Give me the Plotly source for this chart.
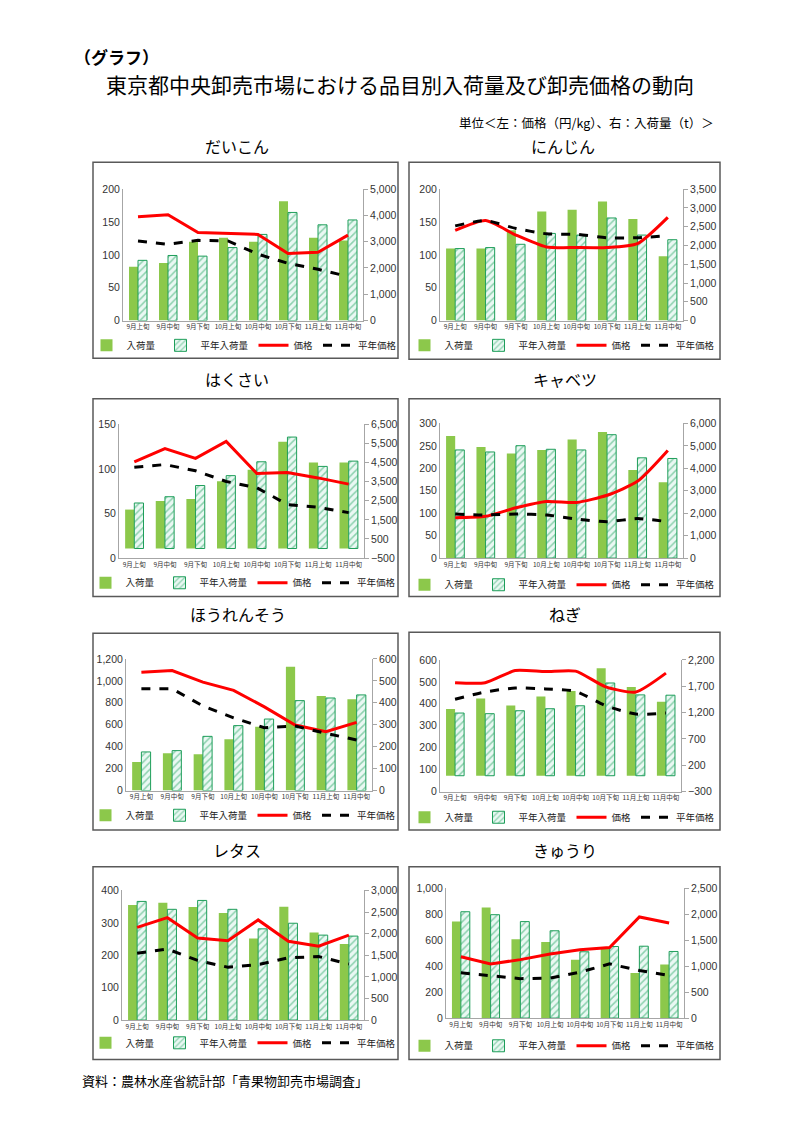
import plotly.graph_objects as go

categories = ["9月上旬", "9月中旬", "9月下旬", "10月上旬", "10月中旬", "10月下旬", "11月上旬", "11月中旬"]
item_names = ["だいこん", "にんじん", "はくさい", "キャベツ", "ほうれんそう", "ねぎ", "レタス", "きゅうり"]

# 入荷量 (t) / 平年入荷量 (t) / 価格 (円/kg) / 平年価格 (円/kg)
daikon_vol = [2050, 2190, 3000, 3150, 3000, 4540, 3150, 3040]
daikon_avg_vol = [2290, 2475, 2450, 2775, 3275, 4110, 3640, 3825]
daikon_price = [158, 161, 134, 132, 131, 102, 104, 130]
daikon_avg_price = [121, 116, 122, 121, 101, 87, 78, 67]

ninjin_vol = [1916, 1916, 2400, 2905, 2949, 3167, 2704, 1715]
ninjin_avg_vol = [1916, 1942, 2030, 2319, 2275, 2730, 2275, 2152]
ninjin_price = [137, 152, 130, 112, 111, 111, 117, 157]
ninjin_avg_price = [144, 152, 140, 132, 131, 126, 126, 129]

hakusai_vol = [2040, 2490, 2590, 3525, 4130, 5600, 4510, 4510]
hakusai_avg_vol = [2385, 2713, 3300, 3819, 4545, 5840, 4303, 4580]
hakusai_price = [108, 123, 112, 131, 95, 96, 90, 83]
hakusai_avg_price = [102, 105, 98, 86, 79, 60, 57, 51]

cabbage_vol = [5440, 4955, 4660, 4820, 5290, 5620, 3925, 3380]
cabbage_avg_vol = [4820, 4730, 5010, 4850, 4820, 5500, 4470, 4440]
cabbage_price = [90, 93, 112, 126, 124, 140, 171, 240]
cabbage_avg_price = [98, 96, 98, 96, 87, 81, 88, 81]

spinach_vol = [130, 170, 166, 234, 291, 565, 431, 416]
spinach_avg_vol = [176, 182, 247, 296, 326, 410, 422, 436]
spinach_price = [1079, 1094, 989, 913, 763, 597, 537, 621]
spinach_avg_price = [928, 928, 772, 663, 573, 588, 522, 461]

negi_vol = [1267, 1467, 1335, 1505, 1611, 2044, 1687, 1404]
negi_avg_vol = [1191, 1179, 1235, 1273, 1329, 1762, 1536, 1530]
negi_price = [496, 496, 552, 547, 549, 477, 454, 540]
negi_avg_price = [421, 454, 472, 468, 457, 391, 353, 358]

lettuce_vol = [2662, 2716, 2616, 2479, 1890, 2624, 2027, 1760]
lettuce_avg_vol = [2746, 2563, 2769, 2563, 2111, 2241, 1966, 1943]
lettuce_price = [286, 316, 253, 245, 309, 243, 228, 262]
lettuce_avg_price = [206, 219, 184, 163, 171, 192, 196, 173]

cucumber_vol = [1861, 2133, 1519, 1469, 1127, 1361, 867, 1032]
cucumber_avg_vol = [2051, 1994, 1861, 1684, 1279, 1380, 1386, 1285]
cucumber_price = [473, 418, 451, 494, 527, 544, 780, 734]
cucumber_avg_price = [349, 324, 304, 309, 354, 418, 367, 329]

volumes = [daikon_vol, ninjin_vol, hakusai_vol, cabbage_vol, spinach_vol, negi_vol, lettuce_vol, cucumber_vol]
avg_volumes = [daikon_avg_vol, ninjin_avg_vol, hakusai_avg_vol, cabbage_avg_vol, spinach_avg_vol, negi_avg_vol, lettuce_avg_vol, cucumber_avg_vol]
prices = [daikon_price, ninjin_price, hakusai_price, cabbage_price, spinach_price, negi_price, lettuce_price, cucumber_price]
avg_prices = [daikon_avg_price, ninjin_avg_price, hakusai_avg_price, cabbage_avg_price, spinach_avg_price, negi_avg_price, lettuce_avg_price, cucumber_avg_price]

# axis settings: (left min, left max, left step, right min, right max, right step)
axis_cfg = [
    (0, 200, 50, 0, 5000, 1000),
    (0, 200, 50, 0, 3500, 500),
    (0, 150, 50, -500, 6500, 1000),
    (0, 300, 50, 0, 6000, 1000),
    (0, 1200, 200, 0, 600, 100),
    (0, 600, 100, -300, 2200, 500),
    (0, 400, 100, 0, 3000, 500),
    (0, 1000, 200, 0, 2500, 500),
]
smooth = [False, True, False, True, False, True, False, False]

# layout in pixels
plot_px = [
    (123, 363, 185, 318), (440, 683, 185, 318),
    (119, 364, 423, 558), (440, 683, 422, 558),
    (126, 372, 660, 793), (440, 681, 661, 794),
    (122, 364, 894, 1025), (446, 684, 892, 1023),
]
box_px = [
    (93, 398, 158, 356), (409, 720, 158, 357),
    (93, 398, 397, 597), (409, 720, 397, 597),
    (93, 398, 634, 833), (409, 720, 633, 833),
    (93, 398, 870, 1065), (409, 720, 870, 1065),
]
title_px = [(237, 142), (563, 142), (237, 377), (565, 377), (238, 615), (565, 615), (237, 853), (565, 853)]
legend_px = [(244, 343), (562, 343), (243, 583), (562, 585), (243, 818), (562, 820), (243, 1048), (562, 1051)]

W, H = 794, 1123
def fx(p):
    return p / W
def fy(p):
    return 1 - p / H

GREEN = "#8CC84B"
HATCH_LINE = "#2EAA6A"
JP = "Noto Sans CJK JP"
NUM = "Liberation Sans"
AXIS_GREY = "#A6A6A6"

fig = go.Figure()
layout = dict(
    width=W, height=H, margin=dict(l=0, r=0, t=0, b=0),
    paper_bgcolor="white", plot_bgcolor="rgba(0,0,0,0)",
    barmode="group", bargap=0.4, bargroupgap=0,
    font=dict(family=JP, color="#222"),
    showlegend=True,
)

shapes = []
annotations = []

for i in range(8):
    n = i + 1
    xa = "x" if n == 1 else f"x{n}"
    yb_i = 2 * i + 1
    yl_i = 2 * i + 2
    yb = "y" if yb_i == 1 else f"y{yb_i}"
    yl = f"y{yl_i}"
    leg = "legend" if n == 1 else f"legend{n}"
    lmin, lmax, lstep, rmin, rmax, rstep = axis_cfg[i]
    shape = "spline" if smooth[i] else "linear"

    fig.add_trace(go.Bar(
        x=categories, y=volumes[i], name="入荷量", xaxis=xa, yaxis=yb, legend=leg,
        marker=dict(color=GREEN, line=dict(width=0)),
    ))
    fig.add_trace(go.Bar(
        x=categories, y=avg_volumes[i], name="平年入荷量", xaxis=xa, yaxis=yb, legend=leg,
        marker=dict(color="#EAF8F3", line=dict(color="#1E9E5A", width=1),
                    pattern=dict(shape="/", fgcolor=HATCH_LINE, bgcolor="#EAF8F3", size=5, solidity=0.3)),
    ))
    fig.add_trace(go.Scatter(
        x=categories, y=prices[i], name="価格", xaxis=xa, yaxis=yl, legend=leg, mode="lines",
        line=dict(color="#FF0000", width=3, shape=shape, smoothing=0.6),
    ))
    fig.add_trace(go.Scatter(
        x=categories, y=avg_prices[i], name="平年価格", xaxis=xa, yaxis=yl, legend=leg, mode="lines",
        line=dict(color="#000000", width=3, dash="dash", shape=shape, smoothing=0.6),
    ))

    x0, x1, y0, y1 = plot_px[i]
    xkey = "xaxis" if n == 1 else f"xaxis{n}"
    ybkey = "yaxis" if yb_i == 1 else f"yaxis{yb_i}"
    ylkey = f"yaxis{yl_i}"
    layout[xkey] = dict(
        domain=[fx(x0), fx(x1)], anchor=yb, type="category",
        showline=True, linecolor=AXIS_GREY, linewidth=1, ticks="", showgrid=False,
        tickfont=dict(size=6.5, family=JP, color="#333"), tickangle=0,
    )
    layout[ybkey] = dict(
        domain=[fy(y1), fy(y0)], anchor=xa, side="right",
        range=[rmin, rmax], tick0=rmin, dtick=rstep, tickformat=",",
        showgrid=False, zeroline=False, showline=True, linecolor=AXIS_GREY, linewidth=1,
        ticks="outside", ticklen=4, tickcolor=AXIS_GREY,
        tickfont=dict(size=10.5, family=NUM, color="#333"),
    )
    layout[ylkey] = dict(
        overlaying=yb, anchor=xa, side="left",
        range=[lmin, lmax], tick0=lmin, dtick=lstep, tickformat=",",
        showgrid=False, zeroline=False, showline=True, linecolor=AXIS_GREY, linewidth=1,
        ticks="", tickfont=dict(size=10.5, family=NUM, color="#333"),
    )
    lx, ly = legend_px[i]
    layout[leg] = dict(
        orientation="h", x=fx(lx), y=fy(ly), xanchor="center", yanchor="middle",
        font=dict(size=9.5, family=JP, color="#222"), bgcolor="rgba(0,0,0,0)",
        itemwidth=30, tracegroupgap=0,
    )

    bx0, bx1, by0, by1 = box_px[i]
    shapes.append(dict(type="rect", xref="paper", yref="paper",
                       x0=fx(bx0), x1=fx(bx1), y0=fy(by1), y1=fy(by0),
                       line=dict(color="#595959", width=1.5), fillcolor="rgba(0,0,0,0)", layer="below"))
    tx, ty = title_px[i]
    annotations.append(dict(text=item_names[i], x=fx(tx), y=fy(ty), xref="paper", yref="paper",
                            xanchor="center", yanchor="middle", showarrow=False,
                            font=dict(size=16, family=JP, color="#000")))

annotations += [
    dict(text="<b>（グラフ）</b>", x=fx(72), y=fy(51), xref="paper", yref="paper", xanchor="left",
         yanchor="middle", showarrow=False, font=dict(size=17, family=JP, color="#000")),
    dict(text="東京都中央卸売市場における品目別入荷量及び卸売価格の動向", x=fx(400), y=fy(79), xref="paper",
         yref="paper", xanchor="center", yanchor="middle", showarrow=False,
         font=dict(size=21, family=JP, color="#000")),
    dict(text="単位＜左：価格（円/kg）、右：入荷量（t）＞", x=fx(716), y=fy(118), xref="paper", yref="paper",
         xanchor="right", yanchor="middle", showarrow=False, font=dict(size=12.5, family=JP, color="#000")),
    dict(text="資料：農林水産省統計部「青果物卸売市場調査」", x=fx(80), y=fy(1086), xref="paper", yref="paper",
         xanchor="left", yanchor="middle", showarrow=False, font=dict(size=13, family=JP, color="#000")),
]
layout["shapes"] = shapes
layout["annotations"] = annotations
fig.update_layout(**layout)
fig.write_html("out.html", config={"displayModeBar": False},
               post_script="document.body.style.margin='0';document.body.style.overflow='hidden';")
